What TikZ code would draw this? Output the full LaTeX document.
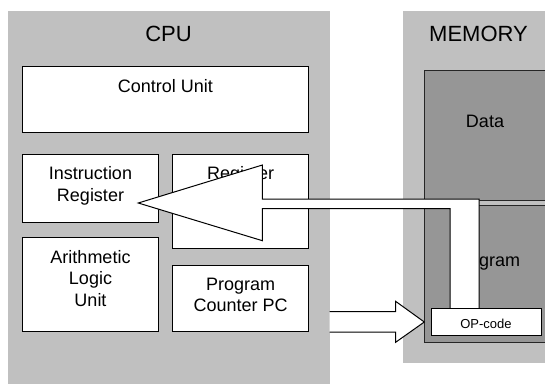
\documentclass[tikz,border=0pt]{standalone}
\usepackage{fontspec}
\setmainfont{Liberation Sans}
\definecolor{lightg}{RGB}{192,192,192}
\definecolor{darkg}{RGB}{150,150,150}
\begin{document}
\begin{tikzpicture}[x=1pt,y=-1pt,
  panel/.style={fill=lightg, draw=none, anchor=north west, inner sep=0pt, outer sep=0pt},
  box/.style={fill=white, draw=black, line width=1pt, anchor=north west, inner sep=0pt, outer sep=0pt},
  membox/.style={fill=darkg, draw=black!85, line width=1pt, anchor=north west, inner sep=0pt, outer sep=0pt},
  title/.style={font=\fontsize{22}{26}\selectfont, anchor=base, inner sep=0pt},
  lbl/.style={font=\fontsize{18}{21.6}\selectfont, align=center, anchor=north, inner sep=0pt},
  lblbase/.style={font=\fontsize{18}{21.6}\selectfont, anchor=base, inner sep=0pt},
  small/.style={font=\fontsize{13}{15}\selectfont, anchor=base, inner sep=0pt},
  blockarrow/.style={fill=white, draw=black, line width=1pt, line join=miter}]
\clip (0,0) rectangle (545,383);
\fill[white] (0,0) rectangle (545,383);
% backgrounds
\node[panel, minimum width=321.2pt, minimum height=380pt] (cpu) at (8.3,11.3) {};
\node[panel, minimum width=150pt, minimum height=351.7pt] (mem) at (403.2,11.3) {};
\node[title] (cputxt) at (168.5,41.7) {CPU};
\node[title] (memtxt) at (478.5,41.7) {MEMORY};
% CPU boxes
\node[box, minimum width=286.4pt, minimum height=66pt] (cu) at (22.2,66.5) {};
\node[box, minimum width=136.6pt, minimum height=68pt] (ir) at (22.2,154.5) {};
\node[box, minimum width=135.9pt, minimum height=93.5pt] (reg) at (172.7,154.5) {};
\node[box, minimum width=136.6pt, minimum height=93.5pt] (alu) at (22.2,237.5) {};
\node[box, minimum width=135.9pt, minimum height=65.5pt] (pc) at (172.7,265.5) {};
\node[lbl] (cutxt) at ([yshift=-12.5pt]cu.north) {Control Unit};
\node[lbl] (irtxt) at ([yshift=-12.2pt]ir.north) {Instruction\\Register};
\node[lbl] (regtxt) at ([yshift=-12.2pt]reg.north) {Register};
\node[lbl] (alutxt) at ([yshift=-12.5pt]alu.north) {Arithmetic\\Logic\\Unit};
\node[lbl] (pctxt) at ([yshift=-12.2pt]pc.north) {Program\\Counter PC};
% memory boxes
\node[membox, minimum width=140pt, minimum height=130pt] (data) at (424,70) {};
\node[membox, minimum width=140pt, minimum height=136.3pt] (prog) at (424,205.7) {};
\node[lblbase] (datatxt) at (485,127.7) {Data};
\node[lblbase] (progtxt) at (485.5,266.7) {Program};
% fetch arrow: memory (OP-code) -> instruction register
\coordinate (fa1) at (479,308.3);
\coordinate (fa2) at (479,199);
\coordinate (fa3) at (262.4,199);
\coordinate (fa4) at (262.4,165);
\coordinate (fatip) at (138.3,203);
\coordinate (fa6) at (262.4,240.7);
\coordinate (fa7) at (262.4,208.7);
\coordinate (fa8) at (450,208.7);
\coordinate (fa9) at (450,308.3);
\path[blockarrow] (fa1) -- (fa2) -- (fa3) -- (fa4) -- (fatip) -- (fa6) -- (fa7) -- (fa8) -- (fa9);
% address arrow: program counter -> memory
\coordinate (pa1) at (329.5,311.7);
\coordinate (pa2) at (395.6,311.7);
\coordinate (pa3) at (395.6,301.3);
\coordinate (patip) at (424.3,322);
\coordinate (pa5) at (395.6,342.3);
\coordinate (pa6) at (395.6,332);
\coordinate (pa7) at (329.5,332);
\path[blockarrow] (pa1) -- (pa2) -- (pa3) -- (patip) -- (pa5) -- (pa6) -- (pa7);
% OP-code box
\node[box, minimum width=110pt, minimum height=27.3pt] (op) at (431,308.3) {};
\node[small] (optxt) at (486,328.3) {OP-code};
\end{tikzpicture}
\end{document}
